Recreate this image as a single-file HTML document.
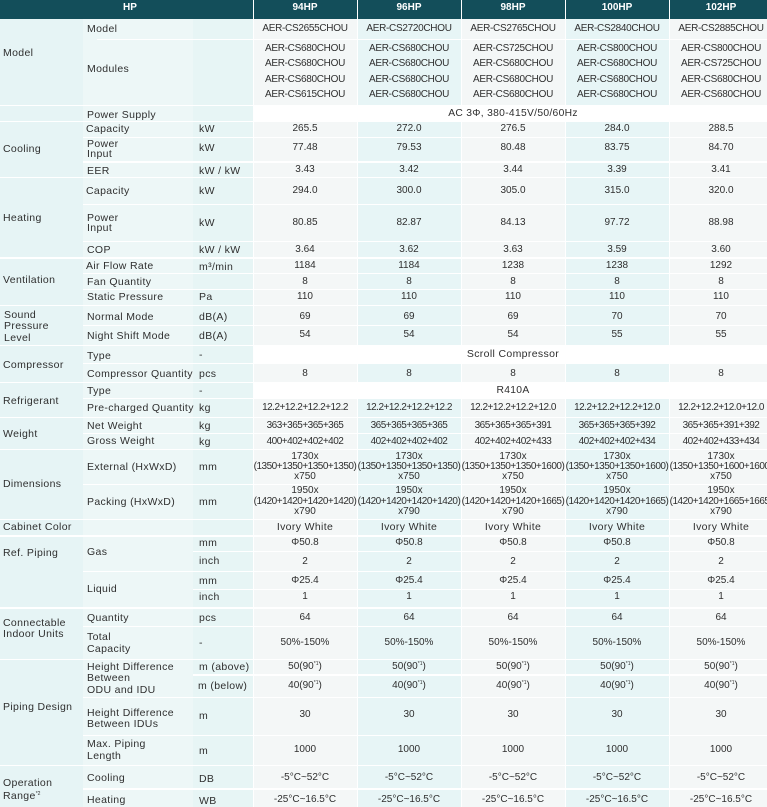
<!DOCTYPE html>
<html><head><meta charset="utf-8">
<style>
*{margin:0;padding:0;box-sizing:border-box}
html,body{width:767px;height:807px;overflow:hidden;background:#fff}
#w{position:relative;width:767px;height:807px;overflow:hidden;font-family:"Liberation Sans",sans-serif;color:#2f2f2f}
.b{position:absolute}
.h{position:absolute;background:#fff;height:1.5px}
.v{position:absolute;background:#fff;width:1.5px;top:0;height:807px}
.a{position:absolute;white-space:nowrap;line-height:12px;height:12px;font-size:10.5px;letter-spacing:.35px}
.c1{left:3px}.c2{left:87px}.u{left:199px}
.r{position:absolute;left:253px;width:520px;display:flex;line-height:12px;height:12px;white-space:nowrap;font-size:10px}
.r span{width:104px;flex:none;text-align:center}
.r.t{font-size:10.5px;letter-spacing:.35px}
.r.n{letter-spacing:-.5px}
.r.k{letter-spacing:-.3px}
.m{position:absolute;left:253px;width:520px;text-align:center;line-height:12px;height:12px;white-space:nowrap;font-size:10.3px;letter-spacing:.3px}
.hd{color:#fff;font-weight:bold;font-size:10px;letter-spacing:0}
sup{font-size:5px;line-height:0;vertical-align:4px;letter-spacing:0}
</style></head><body><div id="w">
<div class="b" style="left:0;top:0;width:767px;height:19px;background:#134e5a"></div>
<div class="b" style="left:0;top:19px;width:83px;height:788px;background:#e6f4f5"></div>
<div class="b" style="left:83px;top:19px;width:110px;height:788px;background:#edf7f7"></div>
<div class="b" style="left:193px;top:19px;width:60px;height:788px;background:#e7f5f5"></div>
<div class="b" style="left:253px;top:19px;width:104px;height:788px;background:#f4f7f7"></div>
<div class="b" style="left:357px;top:19px;width:104px;height:788px;background:#e7f5f6"></div>
<div class="b" style="left:461px;top:19px;width:104px;height:788px;background:#f4f7f7"></div>
<div class="b" style="left:565px;top:19px;width:104px;height:788px;background:#e7f5f6"></div>
<div class="b" style="left:669px;top:19px;width:104px;height:788px;background:#f4f7f7"></div>
<div class="v" style="left:252.5px"></div>
<div class="v" style="left:356.5px"></div>
<div class="v" style="left:460.5px"></div>
<div class="v" style="left:564.5px"></div>
<div class="v" style="left:668.5px"></div>
<div class="b" style="left:253px;top:105px;width:514px;height:16px;background:#fff"></div>
<div class="b" style="left:253px;top:345px;width:514px;height:18px;background:#fff"></div>
<div class="b" style="left:253px;top:382px;width:514px;height:16px;background:#fff"></div>
<div class="h" style="left:0;width:767px;top:104.5px"></div>
<div class="h" style="left:0;width:767px;top:120.8px"></div>
<div class="h" style="left:0;width:767px;top:176.5px"></div>
<div class="h" style="left:0;width:767px;top:257px"></div>
<div class="h" style="left:0;width:767px;top:304.5px"></div>
<div class="h" style="left:0;width:767px;top:344.5px"></div>
<div class="h" style="left:0;width:767px;top:381.5px"></div>
<div class="h" style="left:0;width:767px;top:416.8px"></div>
<div class="h" style="left:0;width:767px;top:448.5px"></div>
<div class="h" style="left:0;width:767px;top:518.8px"></div>
<div class="h" style="left:0;width:767px;top:535px"></div>
<div class="h" style="left:0;width:767px;top:607px"></div>
<div class="h" style="left:0;width:767px;top:658.8px"></div>
<div class="h" style="left:0;width:767px;top:764.8px"></div>
<div class="h" style="left:97px;width:670px;top:38.8px"></div>
<div class="h" style="left:83px;width:684px;top:136.5px"></div>
<div class="h" style="left:83px;width:684px;top:161px"></div>
<div class="h" style="left:83px;width:684px;top:203.8px"></div>
<div class="h" style="left:83px;width:684px;top:240.8px"></div>
<div class="h" style="left:83px;width:684px;top:272.8px"></div>
<div class="h" style="left:83px;width:684px;top:288.8px"></div>
<div class="h" style="left:83px;width:684px;top:324.5px"></div>
<div class="h" style="left:83px;width:684px;top:362.8px"></div>
<div class="h" style="left:83px;width:684px;top:397.8px"></div>
<div class="h" style="left:83px;width:684px;top:432.8px"></div>
<div class="h" style="left:83px;width:684px;top:483.8px"></div>
<div class="h" style="left:83px;width:684px;top:570.5px"></div>
<div class="h" style="left:83px;width:684px;top:625.5px"></div>
<div class="h" style="left:83px;width:684px;top:696.5px"></div>
<div class="h" style="left:83px;width:684px;top:734.8px"></div>
<div class="h" style="left:83px;width:684px;top:788px"></div>
<div class="h" style="left:193px;width:574px;top:550.5px"></div>
<div class="h" style="left:193px;width:574px;top:588.8px"></div>
<div class="h" style="left:193px;width:574px;top:674.2px"></div>

<div class="a hd" style="left:0;width:260px;text-align:center;top:1.5px">HP</div>
<div class="r hd" style="top:1.5px"><span>94HP</span><span>96HP</span><span>98HP</span><span>100HP</span><span>102HP</span></div>

<div class="a c1" style="top:47px">Model</div>
<div class="a c1" style="top:143px">Cooling</div>
<div class="a c1" style="top:211.7px">Heating</div>
<div class="a c1" style="top:274.3px">Ventilation</div>
<div class="a" style="left:4px;top:308.7px">Sound</div>
<div class="a" style="left:4px;top:320.3px">Pressure</div>
<div class="a" style="left:4px;top:332.3px">Level</div>
<div class="a c1" style="top:358.7px">Compressor</div>
<div class="a c1" style="top:394.7px">Refrigerant</div>
<div class="a c1" style="top:428.3px">Weight</div>
<div class="a c1" style="top:478.3px">Dimensions</div>
<div class="a c1" style="top:521.3px">Cabinet Color</div>
<div class="a c1" style="top:546.7px">Ref. Piping</div>
<div class="a c1" style="top:616.7px">Connectable</div>
<div class="a c1" style="top:628.3px">Indoor Units</div>
<div class="a c1" style="top:700.7px">Piping Design</div>
<div class="a c1" style="top:777.3px">Operation</div>
<div class="a c1" style="top:789.7px">Range<sup>*2</sup></div>

<div class="a c2" style="top:23px">Model</div>
<div class="a c2" style="top:63px">Modules</div>
<div class="a c2" style="top:108.7px">Power Supply</div>
<div class="a" style="left:86px;top:122.7px">Capacity</div>
<div class="a c2" style="top:137.7px">Power</div>
<div class="a c2" style="top:147.7px">Input</div>
<div class="a c2" style="top:164.7px">EER</div>
<div class="a" style="left:86px;top:185.3px">Capacity</div>
<div class="a c2" style="top:211.7px">Power</div>
<div class="a c2" style="top:221.7px">Input</div>
<div class="a c2" style="top:243.7px">COP</div>
<div class="a" style="left:86px;top:259.7px">Air Flow Rate</div>
<div class="a c2" style="top:276.3px">Fan Quantity</div>
<div class="a c2" style="top:291.3px">Static Pressure</div>
<div class="a c2" style="top:310.7px">Normal Mode</div>
<div class="a c2" style="top:329.7px">Night Shift Mode</div>
<div class="a c2" style="top:349.7px">Type</div>
<div class="a c2" style="top:368.3px">Compressor Quantity</div>
<div class="a c2" style="top:384.7px">Type</div>
<div class="a c2" style="top:402.3px">Pre-charged Quantity</div>
<div class="a c2" style="top:420px">Net Weight</div>
<div class="a c2" style="top:434.7px">Gross Weight</div>
<div class="a c2" style="top:460.7px">External (HxWxD)</div>
<div class="a c2" style="top:496.3px">Packing (HxWxD)</div>
<div class="a c2" style="top:545.7px">Gas</div>
<div class="a c2" style="top:583.3px">Liquid</div>
<div class="a c2" style="top:612.3px">Quantity</div>
<div class="a c2" style="top:630.7px">Total</div>
<div class="a c2" style="top:642.7px">Capacity</div>
<div class="a c2" style="top:660.7px">Height Difference</div>
<div class="a c2" style="top:672.3px">Between</div>
<div class="a c2" style="top:684.3px">ODU and IDU</div>
<div class="a c2" style="top:706.7px">Height Difference</div>
<div class="a c2" style="top:718.3px">Between IDUs</div>
<div class="a c2" style="top:738.3px">Max. Piping</div>
<div class="a c2" style="top:750.3px">Length</div>
<div class="a c2" style="top:771.7px">Cooling</div>
<div class="a c2" style="top:794.3px">Heating</div>

<div class="a u" style="top:122.7px">kW</div>
<div class="a u" style="top:142.3px">kW</div>
<div class="a u" style="top:164.7px">kW / kW</div>
<div class="a u" style="top:185.3px">kW</div>
<div class="a u" style="top:216.7px">kW</div>
<div class="a u" style="top:243.7px">kW / kW</div>
<div class="a u" style="top:260.7px">m³/min</div>
<div class="a u" style="top:291.3px">Pa</div>
<div class="a u" style="top:311.3px">dB(A)</div>
<div class="a u" style="top:329.7px">dB(A)</div>
<div class="a u" style="top:349px">-</div>
<div class="a u" style="top:368.3px">pcs</div>
<div class="a u" style="top:384.7px">-</div>
<div class="a u" style="top:402.3px">kg</div>
<div class="a u" style="top:420px">kg</div>
<div class="a u" style="top:435.7px">kg</div>
<div class="a u" style="top:460.7px">mm</div>
<div class="a u" style="top:496.3px">mm</div>
<div class="a u" style="top:536.7px">mm</div>
<div class="a u" style="top:555.3px">inch</div>
<div class="a u" style="top:574.7px">mm</div>
<div class="a u" style="top:591.3px">inch</div>
<div class="a u" style="top:612.3px">pcs</div>
<div class="a u" style="top:637px">-</div>
<div class="a u" style="top:661.3px">m (above)</div>
<div class="a" style="left:198px;top:680.3px">m (below)</div>
<div class="a u" style="top:710.3px">m</div>
<div class="a u" style="top:744.7px">m</div>
<div class="a u" style="top:772.7px">DB</div>
<div class="a u" style="top:795px">WB</div>

<div class="r k" style="top:23px"><span>AER-CS2655CHOU</span><span>AER-CS2720CHOU</span><span>AER-CS2765CHOU</span><span>AER-CS2840CHOU</span><span>AER-CS2885CHOU</span></div>
<div class="r k" style="top:43px"><span>AER-CS680CHOU</span><span>AER-CS680CHOU</span><span>AER-CS725CHOU</span><span>AER-CS800CHOU</span><span>AER-CS800CHOU</span></div>
<div class="r k" style="top:57.7px"><span>AER-CS680CHOU</span><span>AER-CS680CHOU</span><span>AER-CS680CHOU</span><span>AER-CS680CHOU</span><span>AER-CS725CHOU</span></div>
<div class="r k" style="top:73.7px"><span>AER-CS680CHOU</span><span>AER-CS680CHOU</span><span>AER-CS680CHOU</span><span>AER-CS680CHOU</span><span>AER-CS680CHOU</span></div>
<div class="r k" style="top:88.7px"><span>AER-CS615CHOU</span><span>AER-CS680CHOU</span><span>AER-CS680CHOU</span><span>AER-CS680CHOU</span><span>AER-CS680CHOU</span></div>
<div class="m" style="top:107.7px">AC 3Φ, 380-415V/50/60Hz</div>
<div class="r" style="top:122.7px"><span>265.5</span><span>272.0</span><span>276.5</span><span>284.0</span><span>288.5</span></div>
<div class="r" style="top:142.3px"><span>77.48</span><span>79.53</span><span>80.48</span><span>83.75</span><span>84.70</span></div>
<div class="r" style="top:164px"><span>3.43</span><span>3.42</span><span>3.44</span><span>3.39</span><span>3.41</span></div>
<div class="r" style="top:185px"><span>294.0</span><span>300.0</span><span>305.0</span><span>315.0</span><span>320.0</span></div>
<div class="r" style="top:216.7px"><span>80.85</span><span>82.87</span><span>84.13</span><span>97.72</span><span>88.98</span></div>
<div class="r" style="top:243.7px"><span>3.64</span><span>3.62</span><span>3.63</span><span>3.59</span><span>3.60</span></div>
<div class="r" style="top:259.7px"><span>1184</span><span>1184</span><span>1238</span><span>1238</span><span>1292</span></div>
<div class="r" style="top:275.7px"><span>8</span><span>8</span><span>8</span><span>8</span><span>8</span></div>
<div class="r" style="top:290.7px"><span>110</span><span>110</span><span>110</span><span>110</span><span>110</span></div>
<div class="r" style="top:311.3px"><span>69</span><span>69</span><span>69</span><span>70</span><span>70</span></div>
<div class="r" style="top:329.3px"><span>54</span><span>54</span><span>54</span><span>55</span><span>55</span></div>
<div class="m" style="top:348.3px;font-size:10.5px;letter-spacing:.35px">Scroll Compressor</div>
<div class="r" style="top:367.7px"><span>8</span><span>8</span><span>8</span><span>8</span><span>8</span></div>
<div class="m" style="top:385px">R410A</div>
<div class="r n" style="top:402.3px"><span>12.2+12.2+12.2+12.2</span><span>12.2+12.2+12.2+12.2</span><span>12.2+12.2+12.2+12.0</span><span>12.2+12.2+12.2+12.0</span><span>12.2+12.2+12.0+12.0</span></div>
<div class="r n" style="top:419.7px"><span>363+365+365+365</span><span>365+365+365+365</span><span>365+365+365+391</span><span>365+365+365+392</span><span>365+365+391+392</span></div>
<div class="r n" style="top:435.7px"><span>400+402+402+402</span><span>402+402+402+402</span><span>402+402+402+433</span><span>402+402+402+434</span><span>402+402+433+434</span></div>
<div class="r" style="top:450.7px"><span>1730x</span><span>1730x</span><span>1730x</span><span>1730x</span><span>1730x</span></div>
<div class="r n" style="top:460.7px"><span>(1350+1350+1350+1350)</span><span>(1350+1350+1350+1350)</span><span>(1350+1350+1350+1600)</span><span>(1350+1350+1350+1600)</span><span>(1350+1350+1600+1600)</span></div>
<div class="r" style="top:470.7px"><span>x750</span><span>x750</span><span>x750</span><span>x750</span><span>x750</span></div>
<div class="r" style="top:485px"><span>1950x</span><span>1950x</span><span>1950x</span><span>1950x</span><span>1950x</span></div>
<div class="r n" style="top:495.7px"><span>(1420+1420+1420+1420)</span><span>(1420+1420+1420+1420)</span><span>(1420+1420+1420+1665)</span><span>(1420+1420+1420+1665)</span><span>(1420+1420+1665+1665)</span></div>
<div class="r" style="top:505.7px"><span>x790</span><span>x790</span><span>x790</span><span>x790</span><span>x790</span></div>
<div class="r t" style="top:521.3px"><span>Ivory White</span><span>Ivory White</span><span>Ivory White</span><span>Ivory White</span><span>Ivory White</span></div>
<div class="r" style="top:536.7px"><span>Φ50.8</span><span>Φ50.8</span><span>Φ50.8</span><span>Φ50.8</span><span>Φ50.8</span></div>
<div class="r" style="top:555.7px"><span>2</span><span>2</span><span>2</span><span>2</span><span>2</span></div>
<div class="r" style="top:574.7px"><span>Φ25.4</span><span>Φ25.4</span><span>Φ25.4</span><span>Φ25.4</span><span>Φ25.4</span></div>
<div class="r" style="top:591.3px"><span>1</span><span>1</span><span>1</span><span>1</span><span>1</span></div>
<div class="r" style="top:612px"><span>64</span><span>64</span><span>64</span><span>64</span><span>64</span></div>
<div class="r" style="top:637px"><span>50%-150%</span><span>50%-150%</span><span>50%-150%</span><span>50%-150%</span><span>50%-150%</span></div>
<div class="r" style="top:661px"><span>50(90<sup>*1</sup>)</span><span>50(90<sup>*1</sup>)</span><span>50(90<sup>*1</sup>)</span><span>50(90<sup>*1</sup>)</span><span>50(90<sup>*1</sup>)</span></div>
<div class="r" style="top:680px"><span>40(90<sup>*1</sup>)</span><span>40(90<sup>*1</sup>)</span><span>40(90<sup>*1</sup>)</span><span>40(90<sup>*1</sup>)</span><span>40(90<sup>*1</sup>)</span></div>
<div class="r" style="top:709px"><span>30</span><span>30</span><span>30</span><span>30</span><span>30</span></div>
<div class="r" style="top:744px"><span>1000</span><span>1000</span><span>1000</span><span>1000</span><span>1000</span></div>
<div class="r" style="top:771.7px"><span>-5°C~52°C</span><span>-5°C~52°C</span><span>-5°C~52°C</span><span>-5°C~52°C</span><span>-5°C~52°C</span></div>
<div class="r" style="top:794.3px"><span>-25°C~16.5°C</span><span>-25°C~16.5°C</span><span>-25°C~16.5°C</span><span>-25°C~16.5°C</span><span>-25°C~16.5°C</span></div>
</div></body></html>
